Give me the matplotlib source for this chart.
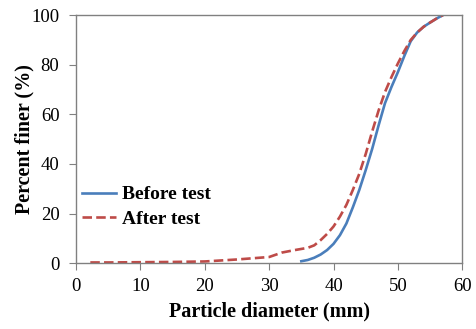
import numpy as np
import matplotlib
matplotlib.use('Agg')
from matplotlib import pyplot as plt

plt.rcParams['font.family'] = ['Liberation Serif', 'DejaVu Serif']

# before test gradation
before_d = [35, 36, 37, 38, 39, 40, 41, 42, 43, 44, 45, 46, 47, 48, 49, 50, 51, 52, 53, 54, 55, 56, 57]
before_p = [0.8, 1.3, 2.2, 3.5, 5.3, 7.8, 11.3, 16, 22.5, 29.5, 37.5, 46, 55.5, 64.5, 71, 77, 83.5, 89.5, 93, 95.3, 97, 98.6, 100]

# after test gradation
after_d = [2.2, 5, 10, 15, 20, 25, 30, 32, 34, 36, 37, 38, 39, 40, 41, 42, 43, 44, 45, 46, 47, 48, 49, 50, 51, 52, 53, 54, 55, 56, 57]
after_p = [0.3, 0.3, 0.4, 0.5, 0.7, 1.5, 2.5, 4.3, 5.3, 6.2, 7.2, 9.3, 11.8, 14.8, 18.8, 23.5, 29.5, 36, 44, 53, 61.5, 69, 75, 80.5, 85.5, 90, 93, 95.3, 97, 98.6, 100]

fig = plt.figure(figsize=(4.76, 3.29), dpi=100)
ax = fig.add_axes([0.16, 0.2, 0.811, 0.754])

ax.plot(before_d, before_p, color='#4A7EBB', lw=1.9, label='Before test')
ax.plot(after_d, after_p, color='#BE4B48', lw=1.9, ls=(0, (3.6, 1.6)), label='After test')

ax.set_xlim(0, 60)
ax.set_ylim(0, 100)
ax.set_xticks(np.arange(0, 61, 10))
ax.set_yticks(np.arange(0, 101, 20))
ax.tick_params(direction='out', length=5, width=0.8, color='#808080', labelsize=13.5)
ax.tick_params(axis='y', pad=7)
ax.tick_params(axis='x', pad=6)
for s in ax.spines.values():
    s.set_color('#808080')
    s.set_linewidth(1.0)

ax.set_xlabel('Particle diameter (mm)', fontsize=14.5, fontweight='bold', labelpad=4)
ax.set_ylabel('Percent finer (%)', fontsize=14.5, fontweight='bold', labelpad=-2)

leg = ax.legend(loc='center left', bbox_to_anchor=(-0.005, 0.227), frameon=False,
                prop={'size': 14, 'weight': 'bold'}, handlelength=1.75,
                handletextpad=0.3, labelspacing=0.35, borderaxespad=0.0)

fig.savefig('out.png', dpi=100)
